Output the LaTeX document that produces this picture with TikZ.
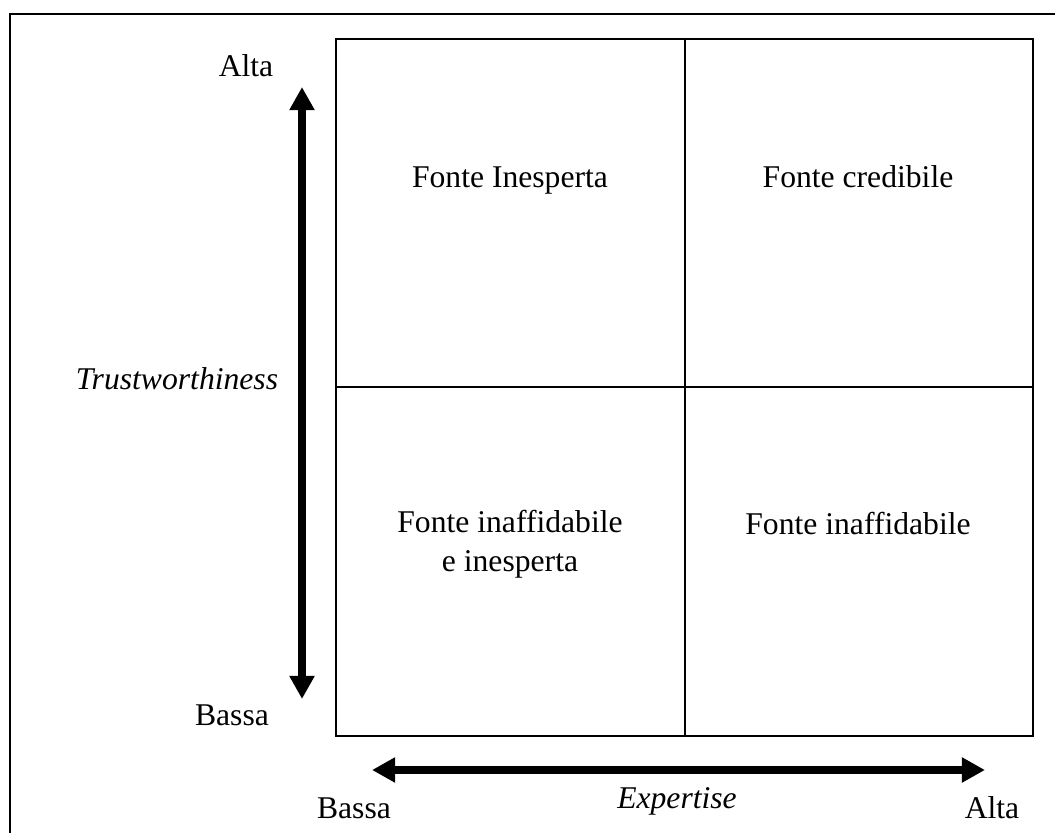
\documentclass[tikz,border=0pt]{standalone}
\usepackage{fontspec}
\setmainfont{Liberation Serif}
\usetikzlibrary{arrows.meta}

\begin{document}
\begin{tikzpicture}[x=0.025cm, y=-0.025cm, >={Triangle[length=16.5pt, width=17pt]},
  lbl/.style={anchor=base, font=\fontsize{22.5}{28}\selectfont, align=center}]
  \useasboundingbox (0,0) rectangle (1055,833);
  \draw[line width=1.5pt] (10,833) -- (10,14) -- (1055,14);

  \draw[line width=1.5pt] (336,39) rectangle (1033,736);
  \draw[line width=1.5pt] (685,39) -- (685,736);
  \draw[line width=1.5pt] (336,387) -- (1033,387);

  \coordinate (ytop) at (302,87);
  \coordinate (ybot) at (302,699);
  \coordinate (xlow) at (372,770);
  \coordinate (xhigh) at (985,770);
  \draw[<->, line width=5.7pt] (ybot) -- (ytop);
  \draw[<->, line width=5.7pt] (xlow) -- (xhigh);

  \node[lbl] (trustalta) at (246,77) {Alta};
  \node[lbl] (trustbassa) at (232,725) {Bassa};
  \node[lbl, font=\fontsize{22.5}{28}\selectfont\itshape] (trust) at (177,390) {Trustworthiness};
  \node[lbl] (expbassa) at (354,818) {Bassa};
  \node[lbl, font=\fontsize{22.5}{28}\selectfont\itshape] (exp) at (677,808) {Expertise};
  \node[lbl] (expalta) at (992,818) {Alta};

  \node[lbl] (inesperta) at (510,188) {Fonte Inesperta};
  \node[lbl] (credibile) at (858,188) {Fonte credibile};
  \node[lbl] (inaffinesp) at (510,572) {Fonte inaffidabile\\e inesperta};
  \node[lbl] (inaffidabile) at (858,535) {Fonte inaffidabile};
\end{tikzpicture}
\end{document}
